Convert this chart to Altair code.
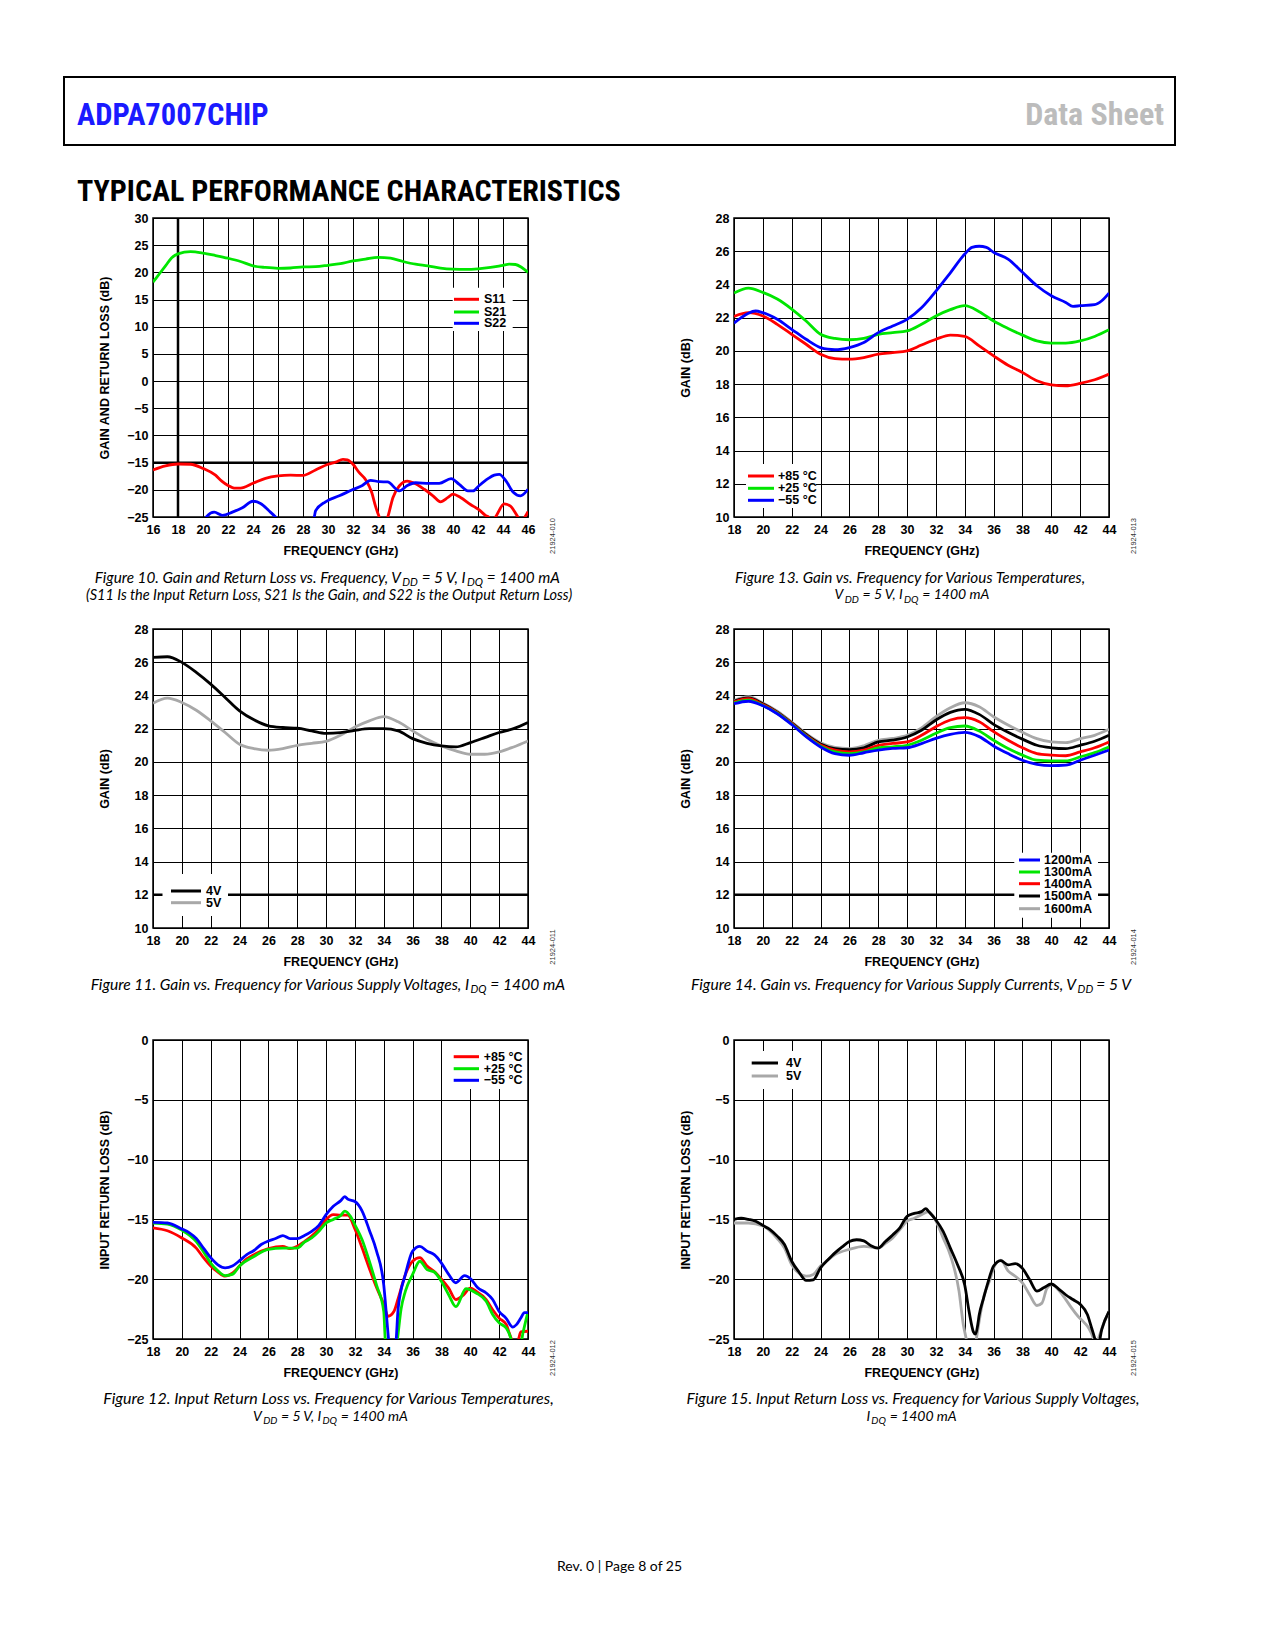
import altair as alt
import pandas as pd

AX_FONT = "Liberation Sans, Arial, sans-serif"
CAP_FONT = "Lato, Open Sans, sans-serif"
HEAD_FONT = "Roboto Condensed, DejaVu Sans Condensed, sans-serif"

RED, GREEN, BLUE = "#ff0000", "#00e600", "#0000ff"
BLACK, GRAY = "#000000", "#a8a8a8"

# ---------------- Figure 10: S-parameters ----------------
F10_S11_F = [16, 17, 18, 19, 20, 21, 21.5, 22, 22.6, 23, 24, 25, 26, 27, 28, 29, 30, 30.6, 31.2, 31.55,
             32, 32.5, 33, 33.5, 33.8, 34.1, 34.45, 34.78, 35.2, 35.7, 36.35, 36.9, 37.7, 38.4, 39.0, 39.6,
             40.0, 40.6, 41.4, 42.1, 42.6, 42.85, 43.1, 43.4, 44.1, 44.6, 45.2, 45.5, 45.75, 46]
F10_S11_V = [-16.35, -15.6, -15.25, -15.3, -16.05, -17.3, -18.4, -19.2, -19.7, -19.7, -18.8, -17.9, -17.45,
             -17.3, -17.35, -16.35, -15.3, -14.9, -14.4, -14.5, -15.3, -16.85, -18.1, -20.5, -23.0, -25.0,
             -26.8, -25.0, -21.4, -19.3, -18.4, -18.8, -19.9, -21.1, -22.2, -21.4, -20.8, -21.4, -22.7,
             -23.7, -24.7, -25.0, -25.8, -25.0, -22.6, -23.0, -25.0, -25.8, -25.0, -24.0]
F10_S21_F = [16, 16.5, 17, 17.5, 18, 19, 20, 21, 22, 23, 24, 25, 26, 27, 28, 29, 30, 31, 32, 33, 34, 35,
             36, 37, 38, 39, 40, 41, 42, 43, 44, 44.5, 45, 45.5, 46]
F10_S21_V = [18.2, 19.7, 21.2, 22.7, 23.4, 23.8, 23.55, 23.1, 22.6, 22.0, 21.2, 20.9, 20.75, 20.8, 21.0,
             21.05, 21.3, 21.6, 22.1, 22.45, 22.75, 22.6, 22.0, 21.5, 21.2, 20.8, 20.6, 20.55, 20.65, 20.9,
             21.3, 21.5, 21.45, 20.9, 20.0]
F10_S22_F = [20.0, 20.27, 20.9, 21.55, 22.35, 23.15, 24.0, 24.6, 25.3, 25.8, 26.5, 28.3, 28.9, 29.0, 29.8,
             30.9, 31.95, 32.75, 33.4, 34.1, 34.76, 35.7, 36.35, 37.0, 38.1, 38.9, 39.85, 40.5, 41.2, 41.6,
             42.1, 42.8, 43.3, 43.7, 44.25, 44.8, 45.4, 46.0]
F10_S22_V = [-26.5, -25.0, -24.1, -24.7, -24.1, -23.3, -22.1, -22.5, -23.9, -25.0, -27.0, -27.0, -25.0,
             -23.9, -22.2, -21.1, -20.0, -19.2, -18.25, -18.5, -18.55, -20.2, -19.2, -18.7, -18.8, -18.8,
             -17.95, -19.0, -20.2, -20.2, -19.2, -17.95, -17.3, -17.15, -18.4, -20.4, -21.1, -19.9]

# ---------------- Figure 13: gain vs temperature ----------------
F13_F = list(range(18, 45))
F13_P85 = [22.07, 22.3, 22.1, 21.6, 21.0, 20.4, 19.8, 19.54, 19.5, 19.6, 19.8, 19.9, 20.0, 20.35, 20.7,
           20.95, 20.87, 20.3, 19.7, 19.14, 18.7, 18.2, 17.96, 17.9, 18.04, 18.26, 18.6]
F13_P25 = [23.48, 23.78, 23.52, 23.12, 22.52, 21.8, 21.0, 20.75, 20.67, 20.75, 21.0, 21.1, 21.2, 21.6,
           22.1, 22.48, 22.72, 22.36, 21.8, 21.35, 20.95, 20.6, 20.47, 20.47, 20.6, 20.87, 21.27]
F13_M55_F = [18, 18.5, 19, 19.5, 20, 21, 22, 23, 24, 24.5, 25, 26, 27, 28, 29, 30, 31, 32, 33, 34, 34.5,
             35, 35.5, 36, 37, 38, 39, 40, 41, 41.5, 42, 43, 43.5, 44]
F13_M55 = [21.67, 22.0, 22.27, 22.4, 22.3, 21.9, 21.3, 20.7, 20.2, 20.1, 20.07, 20.2, 20.5, 21.1, 21.5,
           21.9, 22.6, 23.6, 24.7, 25.83, 26.23, 26.3, 26.23, 25.93, 25.53, 24.73, 23.92, 23.32, 22.92,
           22.68, 22.72, 22.78, 23.02, 23.48]

# ---------------- Figure 11: gain vs supply voltage ----------------
F11_F = list(range(18, 45))
F11_4V = [26.29, 26.33, 25.99, 25.39, 24.68, 23.88, 23.07, 22.53, 22.17, 22.07, 22.03, 21.87, 21.72,
          21.76, 21.9, 22.0, 22.0, 21.87, 21.4, 21.12, 20.96, 20.9, 21.16, 21.46, 21.77, 22.0, 22.37]
F11_5V = [23.53, 23.84, 23.58, 23.11, 22.47, 21.77, 21.06, 20.8, 20.7, 20.8, 21.0, 21.12, 21.24, 21.6,
          22.1, 22.47, 22.73, 22.41, 21.87, 21.36, 20.96, 20.66, 20.46, 20.46, 20.6, 20.9, 21.26]

# ---------------- Figure 14: gain vs supply current ----------------
F14_F = list(range(18, 45))
F14_1200 = [23.5, 23.65, 23.38, 22.9, 22.25, 21.52, 20.9, 20.5, 20.4, 20.55, 20.71, 20.81, 20.85, 21.1,
            21.42, 21.66, 21.78, 21.52, 20.96, 20.5, 20.1, 19.85, 19.77, 19.8, 20.1, 20.4, 20.71]
F14_1300 = [23.55, 23.72, 23.4, 22.93, 22.28, 21.55, 20.95, 20.6, 20.5, 20.6, 20.85, 20.91, 21.0, 21.3,
            21.72, 22.06, 22.16, 21.86, 21.3, 20.8, 20.41, 20.1, 20.06, 20.06, 20.3, 20.56, 20.9]
F14_1400 = [23.6, 23.8, 23.45, 22.97, 22.32, 21.6, 21.02, 20.71, 20.6, 20.71, 21.0, 21.11, 21.2, 21.6,
            22.12, 22.52, 22.66, 22.42, 21.82, 21.3, 20.85, 20.5, 20.41, 20.37, 20.6, 20.85, 21.2]
F14_1500 = [23.65, 23.85, 23.5, 23.0, 22.35, 21.65, 21.08, 20.8, 20.74, 20.85, 21.2, 21.31, 21.5, 21.9,
            22.52, 22.98, 23.16, 22.86, 22.26, 21.78, 21.37, 21.0, 20.85, 20.8, 21.0, 21.24, 21.6]
F14_1600 = [23.7, 23.92, 23.55, 23.05, 22.4, 21.7, 21.15, 20.87, 20.8, 20.97, 21.3, 21.41, 21.6, 22.05,
            22.72, 23.26, 23.56, 23.32, 22.72, 22.22, 21.78, 21.4, 21.2, 21.16, 21.4, 21.6, 21.96]

# ---------------- Figure 12: input return loss vs temperature ----------------
F12_P85_F = [18, 19, 20, 21, 21.5, 22, 22.5, 23, 23.5, 24, 24.5, 25, 26, 27, 27.5, 28, 28.5, 29, 29.5, 30,
             30.5, 31, 31.5, 32, 32.5, 33, 33.5, 34, 34.3, 34.7, 35, 35.5, 36, 36.5, 37, 37.5, 38, 38.5,
             39, 39.5, 40, 40.4, 41.1, 41.55, 42.0, 42.5, 42.7, 42.85, 43.1, 43.35, 43.5, 44]
F12_P85 = [-15.7, -15.95, -16.55, -17.4, -18.2, -18.9, -19.4, -19.75, -19.5, -18.9, -18.3, -17.95, -17.45,
           -17.25, -17.45, -17.25, -16.85, -16.4, -15.8, -15.0, -14.6, -14.65, -14.65, -15.8, -17.4, -19.1,
           -20.7, -22.1, -23.1, -22.7, -21.6, -19.6, -18.5, -18.2, -18.9, -19.35, -20.0, -20.75, -21.7,
           -21.35, -20.75, -21.0, -21.7, -22.55, -23.25, -23.8, -24.5, -25.0, -26.0, -25.0, -24.4, -24.35]
F12_P25_F = [18, 19, 20, 21, 21.5, 22, 22.5, 23, 23.5, 24, 25, 26, 27, 28, 28.5, 29, 29.5, 30, 30.5, 31,
             31.3, 31.7, 32, 32.5, 33, 33.5, 34, 34.1, 34.5, 34.95, 35.2, 35.5, 36, 36.5, 37, 37.5, 38,
             38.5, 39, 39.7, 40.4, 41.1, 41.55, 42.0, 42.5, 42.8, 43.0, 43.4, 43.65, 44]
F12_P25 = [-15.3, -15.4, -15.9, -16.85, -17.7, -18.65, -19.3, -19.7, -19.6, -18.9, -18.1, -17.5, -17.4,
           -17.4, -16.9, -16.55, -16.0, -15.3, -15.0, -14.7, -14.3, -14.75, -15.45, -16.7, -18.5, -20.5,
           -22.7, -25.0, -28.0, -25.0, -22.5, -21.0, -19.6, -18.5, -19.2, -19.4, -20.2, -21.3, -22.3,
           -20.8, -21.15, -21.85, -22.95, -23.65, -24.1, -24.9, -26.0, -26.0, -24.5, -22.7]
F12_M55_F = [18, 19, 20, 20.5, 21, 21.5, 22, 22.5, 23, 23.5, 24, 24.5, 25, 25.5, 26, 26.5, 27, 27.5, 28,
             28.5, 29, 29.5, 30, 30.5, 31, 31.3, 31.5, 32, 32.5, 33, 33.5, 34, 34.2, 34.35, 34.6, 34.85,
             35, 35.5, 36, 36.5, 37, 37.5, 38, 38.5, 39, 39.6, 40.05, 40.5, 41.1, 41.55, 42.0, 42.47,
             42.94, 43.2, 43.5, 43.75, 44]
F12_M55 = [-15.25, -15.3, -15.8, -16.1, -16.6, -17.4, -18.2, -18.8, -19.05, -18.9, -18.45, -17.95, -17.6,
           -17.1, -16.8, -16.6, -16.35, -16.6, -16.6, -16.35, -16.0, -15.5, -14.6, -13.9, -13.45, -13.1,
           -13.3, -13.5, -14.3, -15.9, -17.65, -20.5, -23.2, -25.3, -28.0, -25.3, -22.4, -19.6, -17.65,
           -17.25, -17.65, -17.95, -18.65, -19.6, -20.3, -19.7, -20.0, -20.7, -21.15, -21.7, -22.7,
           -23.25, -24.0, -23.8, -23.25, -22.8, -22.8]

# ---------------- Figure 15: input return loss vs supply voltage ----------------
F15_4V_F = [18, 18.5, 19, 19.5, 20, 20.5, 21, 21.5, 22, 22.5, 23, 23.5, 24, 24.5, 25, 25.5, 26, 26.5, 27,
            27.5, 28, 28.5, 29, 29.5, 30, 30.5, 31, 31.3, 31.5, 32, 32.5, 33, 33.5, 34, 34.3, 34.6, 34.75,
            34.9, 35.0, 35.3, 35.6, 36, 36.5, 37, 37.5, 38, 38.5, 39, 39.5, 40, 40.5, 41, 41.5, 42, 42.5,
            42.8, 43.0, 43.2, 43.5, 44]
F15_4V = [-15.0, -14.9, -15.0, -15.15, -15.5, -15.85, -16.4, -17.1, -18.5, -19.4, -20.1, -20.05, -19.05,
          -18.4, -17.8, -17.3, -16.85, -16.7, -16.8, -17.2, -17.4, -16.85, -16.3, -15.7, -14.75, -14.5,
          -14.35, -14.1, -14.35, -15.05, -16.0, -17.4, -18.8, -20.5, -22.7, -24.4, -24.6, -23.8, -23.0,
          -21.6, -20.3, -18.9, -18.45, -18.8, -18.7, -19.1, -20.05, -21.0, -20.7, -20.4, -20.8, -21.3,
          -21.7, -22.1, -22.95, -24.1, -24.9, -25.8, -24.2, -22.7]
F15_5V_F = [18, 19, 20, 21, 21.5, 22, 22.5, 23, 23.5, 24, 24.5, 25, 26, 27, 28, 28.5, 29, 29.5, 30, 30.5,
            31, 31.5, 32, 32.5, 33, 33.6, 33.9, 34.1, 34.45, 34.8, 35.0, 35.35, 35.7, 36.06, 36.5, 37,
            37.5, 38, 38.5, 39, 39.35, 39.7, 40.05, 40.5, 40.95, 41.4, 41.85, 42.3, 42.6, 42.9, 43.05,
            43.25, 43.6, 44]
F15_5V = [-15.3, -15.3, -15.55, -16.6, -17.4, -18.8, -19.5, -19.75, -19.6, -18.9, -18.4, -17.95, -17.5,
          -17.25, -17.4, -17.0, -16.55, -15.85, -15.15, -14.9, -14.6, -14.35, -15.15, -16.55, -18.0, -21.0,
          -23.8, -25.0, -28.0, -25.0, -23.5, -21.3, -20.2, -18.9, -18.4, -19.3, -19.75, -20.3, -21.3,
          -22.2, -22.0, -20.75, -20.45, -20.9, -21.6, -22.4, -23.1, -23.65, -24.1, -24.9, -25.5, -25.0,
          -23.8, -22.7]

# ---------------- page layout (page pixel coordinates) ----------------
PW, PH = 375, 299
COL_X = [152, 733]
ROW_Y = [217, 628, 1039]
ONE = pd.DataFrame({"k": [0]})

# approximate advance widths (em) of the caption font, for chaining subscripts
CW = {"=": 0.58, " ": 0.193, "0": 0.58, "1": 0.58, "4": 0.58, "5": 0.58, "V": 0.686, ",": 0.23,
      "I": 0.27, "m": 0.868, "A": 0.686, "D": 0.75, "Q": 0.778}


def est_w(s, size):
    return sum(CW.get(c, 0.55) for c in s) * size


def frame(series):
    rows = []
    for name, fs, vs in series:
        rows += [{"f": f, "v": v, "s": name} for f, v in zip(fs, vs)]
    return pd.DataFrame(rows)


def txt(ox, oy, x, y, s, size, font=CAP_FONT, style="normal", weight="normal",
        color="black", align="left", baseline="alphabetic", angle=None):
    kw = dict(text=s, font=font, fontSize=size, fontStyle=style, fontWeight=weight,
              color=color, align=align, baseline=baseline)
    if angle is not None:
        kw["angle"] = angle
    return alt.Chart(ONE).mark_text(**kw).encode(x=alt.value(x - ox), y=alt.value(y - oy))


def legend(ox, oy, box, sym, labx, rows, entries):
    out = [alt.Chart(ONE).mark_rect(fill="white").encode(
        x=alt.value(box[0] - ox), x2=alt.value(box[2] - ox),
        y=alt.value(box[1] - oy), y2=alt.value(box[3] - oy))]
    for (label, color), ry in zip(entries, rows):
        out.append(alt.Chart(ONE).mark_rule(color=color, strokeWidth=3).encode(
            x=alt.value(sym[0] - ox), x2=alt.value(sym[1] - ox), y=alt.value(ry - oy)))
        out.append(txt(ox, oy, labx, ry, label, 12.5, font=AX_FONT, weight="bold",
                       baseline="middle"))
    return out


def cap_center(ox, oy, base_y, text, cx, size=15.3):
    return [txt(ox, oy, cx, base_y, text, size, style="italic", align="center")]


def cap_chain(ox, oy, base_y, segs, x_end=None, cx=None, size=15.3, sub=11):
    """segs: list of (text, is_subscript); laid out right-to-left, each right-aligned."""
    if x_end is None:
        total = sum(est_w(t, sub if s else size) + (0.5 if s else 3.0) for t, s in segs)
        x_end = cx + total / 2
    out, x = [], x_end
    for i in reversed(range(len(segs))):
        text, is_sub = segs[i]
        fs = sub if is_sub else size
        out.append(txt(ox, oy, x, base_y + (3.3 if is_sub else 0), text, fs, style="italic",
                       align="right"))
        x -= est_w(text, fs) + (0.5 if is_sub else 3.0)
    return out


def fig_id(ox, oy, x, y, s):
    return txt(ox, oy, x, y, s, 7.5, font=AX_FONT, color="#333333", align="center",
               baseline="middle", angle=270)


def axis_common():
    return dict(grid=True, gridColor="black", gridWidth=1, gridOpacity=1, domain=False, ticks=False,
                tickSize=0, labelFont=AX_FONT, labelFontSize=12.5, labelFontWeight="bold",
                labelColor="black", labelOverlap=False, titleFont=AX_FONT, titleFontSize=12.5,
                titleFontWeight="bold", titleColor="black", format="d")


def panel(col, row, df, names, colors, xdom, xvals, ydom, yvals, ytitle,
          vrules=None, hrules=None, extra=()):
    xs = alt.Scale(domain=xdom, nice=False, zero=False)
    ys = alt.Scale(domain=ydom, nice=False, zero=False)
    ax = alt.Axis(values=xvals, title="FREQUENCY (GHz)", labelPadding=6, labelFlush=False,
                  titleY=37, titleBaseline="alphabetic", **axis_common())
    ay = alt.Axis(values=yvals, title=ytitle, labelPadding=5, titleX=-44.5, titleAngle=270,
                  titleBaseline="alphabetic", **axis_common())
    layers = []
    if vrules:
        layers.append(alt.Chart(pd.DataFrame({"f": vrules})).mark_rule(
            color="black", strokeWidth=2.5).encode(x=alt.X("f:Q", scale=xs, axis=ax)))
    if hrules:
        layers.append(alt.Chart(pd.DataFrame({"v": hrules})).mark_rule(
            color="black", strokeWidth=2.5).encode(y=alt.Y("v:Q", scale=ys, axis=ay)))
    layers.append(alt.Chart(df).mark_line(clip=True, strokeWidth=2.8, interpolate="monotone").encode(
        x=alt.X("f:Q", scale=xs, axis=ax),
        y=alt.Y("v:Q", scale=ys, axis=ay),
        color=alt.Color("s:N", scale=alt.Scale(domain=names, range=colors), legend=None)))
    layers += list(extra)
    return alt.layer(*layers).properties(width=PW, height=PH)


X16 = list(range(16, 47, 2))
X18 = list(range(18, 45, 2))
Y_GAIN = list(range(10, 29, 2))
Y_RL = list(range(-25, 1, 5))

# ---- Figure 10 (top left) + page header ----
ox, oy = COL_X[0], ROW_Y[0]
ex10 = [
    alt.Chart(ONE).mark_rect(fill="white", stroke="black", strokeWidth=2).encode(
        x=alt.value(63 - ox), x2=alt.value(1174 - ox), y=alt.value(76 - oy), y2=alt.value(144 - oy)),
    txt(ox, oy, 76, 124, "ADPA7007CHIP", 30.5, font=HEAD_FONT, weight="bold", color="#1a1aff"),
    txt(ox, oy, 1163, 124, "Data Sheet", 32, font=HEAD_FONT, weight="bold", color="#bcbcbc",
        align="right"),
    txt(ox, oy, 76, 200, "TYPICAL PERFORMANCE CHARACTERISTICS", 30, font=HEAD_FONT, weight="bold"),
]
ex10 += legend(ox, oy, (451.7, 286.7, 511.7, 330), (453, 478), 483, [298.3, 311, 322.3],
               [("S11", RED), ("S21", GREEN), ("S22", BLUE)])
ex10 += cap_chain(ox, oy, 581.7, [("Figure 10. Gain and Return Loss vs. Frequency, V", False),
                                  ("DD", True), ("= 5 V, I", False), ("DQ", True),
                                  ("= 1400 mA", False)], x_end=559)
ex10 += cap_center(ox, oy, 598.5,
                   "(S11 Is the Input Return Loss, S21 Is the Gain, and S22 is the Output Return Loss)",
                   328, size=14.5)
ex10.append(fig_id(ox, oy, 552, 535, "21924-010"))
df10 = frame([("S11", F10_S11_F, F10_S11_V), ("S21", F10_S21_F, F10_S21_V), ("S22", F10_S22_F, F10_S22_V)])
p10 = panel(0, 0, df10, ["S11", "S21", "S22"], [RED, GREEN, BLUE], [16, 46], X16, [-25, 30],
            list(range(-25, 31, 5)), "GAIN AND RETURN LOSS (dB)", vrules=[18], hrules=[-15], extra=ex10)

# ---- Figure 13 (top right) ----
ox, oy = COL_X[1], ROW_Y[0]
ex13 = legend(ox, oy, (745, 463, 815, 507), (747, 773), 777, [475, 487.3, 499.3],
              [("+85 °C", RED), ("+25 °C", GREEN), ("\u221255 °C", BLUE)])
ex13 += cap_center(ox, oy, 581.7, "Figure 13. Gain vs. Frequency for Various Temperatures,", 909)
ex13 += cap_chain(ox, oy, 598.3, [("V", False), ("DD", True), ("= 5 V, I", False), ("DQ", True),
                                  ("= 1400 mA", False)], cx=909, size=14, sub=10)
ex13.append(fig_id(ox, oy, 1133, 535, "21924-013"))
df13 = frame([("+85", F13_F, F13_P85), ("+25", F13_F, F13_P25), ("-55", F13_M55_F, F13_M55)])
p13 = panel(1, 0, df13, ["+85", "+25", "-55"], [RED, GREEN, BLUE], [18, 44], X18, [10, 28], Y_GAIN,
            "GAIN (dB)", extra=ex13)

# ---- Figure 11 (middle left) ----
ox, oy = COL_X[0], ROW_Y[1]
ex11 = legend(ox, oy, (161.5, 873, 227, 915), (170, 200), 205, [890, 901.7],
              [("4V", BLACK), ("5V", GRAY)])
ex11 += cap_chain(ox, oy, 989, [("Figure 11. Gain vs. Frequency for Various Supply Voltages, I", False),
                                ("DQ", True), ("= 1400 mA", False)], x_end=564, size=15.6)
ex11.append(fig_id(ox, oy, 552, 946, "21924-011"))
df11 = frame([("5V", F11_F, F11_5V), ("4V", F11_F, F11_4V)])
p11 = panel(0, 1, df11, ["5V", "4V"], [GRAY, BLACK], [18, 44], X18, [10, 28], Y_GAIN, "GAIN (dB)",
            hrules=[12], extra=ex11)

# ---- Figure 14 (middle right) ----
ox, oy = COL_X[1], ROW_Y[1]
ex14 = legend(ox, oy, (1013.3, 851.7, 1097, 916.7), (1018, 1039), 1043, [859, 871, 882.7, 895, 907.7],
              [("1200mA", BLUE), ("1300mA", GREEN), ("1400mA", RED), ("1500mA", BLACK), ("1600mA", GRAY)])
ex14 += cap_chain(ox, oy, 989, [("Figure 14. Gain vs. Frequency for Various Supply Currents, V", False),
                                ("DD", True), ("= 5 V", False)], x_end=1130, size=15.6)
ex14.append(fig_id(ox, oy, 1133, 946, "21924-014"))
df14 = frame([("1600mA", F14_F, F14_1600), ("1500mA", F14_F, F14_1500), ("1400mA", F14_F, F14_1400),
              ("1300mA", F14_F, F14_1300), ("1200mA", F14_F, F14_1200)])
p14 = panel(1, 1, df14, ["1600mA", "1500mA", "1400mA", "1300mA", "1200mA"],
            [GRAY, BLACK, RED, GREEN, BLUE], [18, 44], X18, [10, 28], Y_GAIN, "GAIN (dB)",
            hrules=[12], extra=ex14)

# ---- Figure 12 (bottom left) + footer ----
ox, oy = COL_X[0], ROW_Y[2]
ex12 = legend(ox, oy, (450, 1040, 522, 1088), (452.7, 478), 482.7, [1055.7, 1067.7, 1079.3],
              [("+85 °C", RED), ("+25 °C", GREEN), ("\u221255 °C", BLUE)])
ex12 += cap_center(ox, oy, 1403, "Figure 12. Input Return Loss vs. Frequency for Various Temperatures,",
                   327.5, size=16)
ex12 += cap_chain(ox, oy, 1420, [("V", False), ("DD", True), ("= 5 V, I", False), ("DQ", True),
                                 ("= 1400 mA", False)], cx=327.5, size=14, sub=10)
ex12.append(fig_id(ox, oy, 552, 1357, "21924-012"))
ex12.append(txt(ox, oy, 618.5, 1570, "Rev. 0 | Page 8 of 25", 14, align="center"))
df12 = frame([("+85", F12_P85_F, F12_P85), ("+25", F12_P25_F, F12_P25), ("-55", F12_M55_F, F12_M55)])
p12 = panel(0, 2, df12, ["+85", "+25", "-55"], [RED, GREEN, BLUE], [18, 44], X18, [-25, 0], Y_RL,
            "INPUT RETURN LOSS (dB)", extra=ex12)

# ---- Figure 15 (bottom right) ----
ox, oy = COL_X[1], ROW_Y[2]
ex15 = legend(ox, oy, (747, 1050, 807, 1088), (750.7, 777), 785, [1062, 1075],
              [("4V", BLACK), ("5V", GRAY)])
ex15 += cap_center(ox, oy, 1403, "Figure 15. Input Return Loss vs. Frequency for Various Supply Voltages,",
                   912, size=15.6)
ex15 += cap_chain(ox, oy, 1420, [("I", False), ("DQ", True), ("= 1400 mA", False)], cx=909,
                  size=14, sub=10)
ex15.append(fig_id(ox, oy, 1133, 1357, "21924-015"))
df15 = frame([("5V", F15_5V_F, F15_5V), ("4V", F15_4V_F, F15_4V)])
p15 = panel(1, 2, df15, ["5V", "4V"], [GRAY, BLACK], [18, 44], X18, [-25, 0], Y_RL,
            "INPUT RETURN LOSS (dB)", extra=ex15)

chart = alt.concat(p10, p13, p11, p14, p12, p15, columns=2,
                   spacing={"row": 112, "column": 206}, bounds="flush").resolve_scale(
    x="independent", y="independent", color="independent").properties(
    padding={"left": 54, "top": 67, "right": 5, "bottom": 10}).configure_view(
    stroke="black", strokeWidth=1.5)

chart.save("out.html", embed_options={"renderer": "svg", "actions": False})
